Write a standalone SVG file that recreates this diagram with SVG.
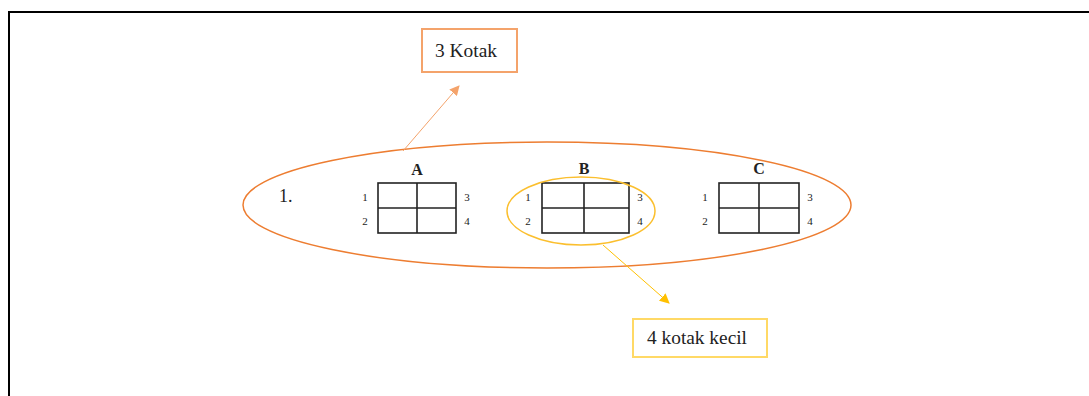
<svg xmlns="http://www.w3.org/2000/svg" width="1089" height="396" viewBox="0 0 1089 396">
<style>
.grid{fill:#fff;stroke:#222;stroke-width:1.6}
.gl{stroke:#222;stroke-width:1.6}
.num{font-family:"Liberation Serif",serif;font-size:11px;fill:#222;text-anchor:middle}
.let{font-family:"Liberation Serif",serif;font-size:16px;font-weight:bold;fill:#222;text-anchor:middle}
.lbl{font-family:"Liberation Serif",serif;font-size:18px;fill:#222}
</style>
<defs>
<marker id="ao" viewBox="0 0 10 10" refX="9" refY="5" markerWidth="10" markerHeight="10" markerUnits="userSpaceOnUse" orient="auto"><path d="M0,0L10,5L0,10z" fill="#f4a36b"/></marker>
<marker id="ay" viewBox="0 0 10 10" refX="9" refY="5" markerWidth="10" markerHeight="10" markerUnits="userSpaceOnUse" orient="auto"><path d="M0,0L10,5L0,10z" fill="#ffc000"/></marker>
</defs>
<rect width="1089" height="396" fill="#fff"/>
<path d="M9,400V12H1095" fill="none" stroke="#000" stroke-width="2"/>
<g id="outer-ellipse"><ellipse cx="547" cy="205" rx="304" ry="63" fill="none" stroke="#ed7d31" stroke-width="1.5"/></g>
<text class="lbl" x="279" y="202" font-size="15">1.</text>
<g id="grid-A">
<text class="let" x="417" y="175">A</text>
<rect class="grid" x="378" y="183" width="78" height="50"/>
<line class="gl" x1="417" y1="183" x2="417" y2="233"/><line class="gl" x1="378" y1="208" x2="456" y2="208"/>
<text class="num" x="365" y="201">1</text><text class="num" x="365" y="225">2</text>
<text class="num" x="467" y="201">3</text><text class="num" x="467" y="225">4</text>
</g>
<g id="grid-B">
<text class="let" x="584" y="174">B</text>
<rect class="grid" x="542" y="183" width="87" height="50"/>
<line class="gl" x1="584" y1="183" x2="584" y2="233"/><line class="gl" x1="542" y1="208" x2="629" y2="208"/>
<text class="num" x="528" y="201">1</text><text class="num" x="528" y="225">2</text>
<text class="num" x="640" y="201">3</text><text class="num" x="640" y="225">4</text>
</g>
<g id="inner-ellipse"><ellipse cx="581" cy="211" rx="74" ry="34" fill="none" stroke="#fbbf2e" stroke-width="1.5"/></g>
<g id="grid-C">
<text class="let" x="759" y="174">C</text>
<rect class="grid" x="719" y="183" width="80" height="50"/>
<line class="gl" x1="759" y1="183" x2="759" y2="233"/><line class="gl" x1="719" y1="208" x2="799" y2="208"/>
<text class="num" x="705" y="201">1</text><text class="num" x="705" y="225">2</text>
<text class="num" x="810" y="201">3</text><text class="num" x="810" y="225">4</text>
</g>
<g id="box-3kotak">
<rect x="422" y="29" width="95" height="43" fill="#fff" stroke="#f4a36b" stroke-width="2"/>
<text class="lbl" x="435" y="57" textLength="62" lengthAdjust="spacingAndGlyphs">3 Kotak</text>
</g>
<g id="box-4kotak">
<rect x="633" y="319" width="134" height="38" fill="#fff" stroke="#ffd966" stroke-width="2"/>
<text class="lbl" x="647" y="344" textLength="100" lengthAdjust="spacingAndGlyphs">4 kotak kecil</text>
</g>
<g id="connectors">
<line x1="403" y1="151" x2="459" y2="86" stroke="#f4a36b" stroke-width="1" marker-end="url(#ao)"/>
<line x1="603" y1="245" x2="669" y2="303" stroke="#ffc000" stroke-width="1" marker-end="url(#ay)"/>
</g>
</svg>
